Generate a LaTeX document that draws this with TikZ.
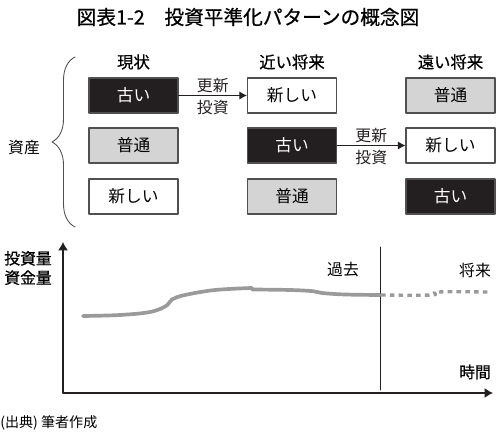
\documentclass[tikz,border=0pt]{standalone}
\usepackage{fontspec}
\setmainfont{Noto Sans CJK JP}[AutoFakeBold=0.7]
\usetikzlibrary{arrows.meta,decorations.pathreplacing}
\definecolor{AssetBlack}{HTML}{231F20}
\definecolor{AssetGray}{HTML}{D4D4D4}
\definecolor{AssetEdge}{HTML}{505050}
\definecolor{CurveGray}{HTML}{9A9A9A}

\begin{document}
\begin{tikzpicture}[x=0.02cm,y=-0.02cm,line cap=round,line join=round,
  asset/.style={draw=AssetEdge,line width=0.6pt,minimum width=1.78cm,minimum height=0.7cm,inner sep=0pt,font=\fontsize{9.5}{10}\selectfont},
  old/.style={asset,fill=AssetBlack,text=white},
  mid/.style={asset,fill=AssetGray},
  new/.style={asset,fill=white},
  phase/.style={font=\fontsize{9.3}{10}\selectfont\bfseries},
  lbl/.style={font=\fontsize{9}{10}\selectfont,inner sep=1pt},
  renew/.style={-{Latex[length=1.5mm,width=1.6mm]},line width=0.5pt,AssetBlack},
  axis/.style={-{Latex[length=1.7mm,width=2mm]},line width=0.6pt,AssetBlack}]
  \useasboundingbox (0,0) rectangle (500,438);
  \node[font=\fontsize{11.2}{12}\selectfont\bfseries] (title) at (248,17) {図表1-2　投資平準化パターンの概念図};
  % phases
  \node[phase] (now) at (133.5,62) {現状};
  \node[phase] (near) at (292,62) {近い将来};
  \node[phase] (far) at (450.5,62) {遠い将来};
  % assets
  \node[old] (a1) at (133.5,95.5) {古い};
  \node[mid] (a2) at (133.5,145.5) {普通};
  \node[new] (a3) at (133.5,196.5) {新しい};
  \node[new] (b1) at (292,95.5) {新しい};
  \node[old] (b2) at (292,145.5) {古い};
  \node[mid] (b3) at (292,196.5) {普通};
  \node[mid] (c1) at (450.5,95.5) {普通};
  \node[new] (c2) at (450.5,145.5) {新しい};
  \node[old] (c3) at (450.5,196.5) {古い};
  \draw[renew] (a1) -- node[lbl,above=0.5pt] {更新} node[lbl,below=1.5pt] {投資} (b1);
  \draw[renew] (b2) -- node[lbl,above=0.5pt] {更新} node[lbl,below=1.5pt] {投資} (c2);
  \draw[decorate,decoration={brace,amplitude=0.46cm},line width=0.5pt,AssetEdge] (75,227) -- (75,57);
  \node[lbl] (asset) at (24,148) {資産};
  % chart
  \coordinate (O) at (63,393);
  \coordinate (Y) at (63,242);
  \coordinate (X) at (493,393);
  \coordinate (N1) at (380,247);\coordinate (N2) at (380,390);
  \draw[axis] (O) -- (Y);
  \draw[axis] (O) -- (X);
  \draw[line width=0.5pt,AssetBlack] (N1) -- (N2);
  \draw[CurveGray,line width=2.1pt] plot[smooth,tension=0.6] coordinates {(83,316) (120,315) (150,312) (166,306) (172,299.5) (185,295) (215,290) (252,288)};
  \draw[CurveGray,line width=2.1pt] plot[smooth,tension=0.6] coordinates {(252,289.5) (290,290) (313,291.2) (322,293) (345,294.5) (380,295)};
  \draw[CurveGray,line width=1.9pt,line cap=butt,dash pattern=on 2.6pt off 2.4pt] plot[smooth,tension=0.6] coordinates {(381,295) (432,295) (438,292) (490,292)};
  \node[lbl,font=\fontsize{9}{11}\selectfont\bfseries,align=left] (qty) at (28,268) {投資量\\資金量};
  \node[lbl] (past) at (343,270) {過去};
  \node[lbl] (future) at (475,270) {将来};
  \node[lbl,font=\fontsize{9}{10}\selectfont\bfseries] (time) at (475,372) {時間};
  \node[anchor=west,inner sep=0pt,font=\fontsize{8}{9}\selectfont] (src) at (0,423) {(出典) 筆者作成};
\end{tikzpicture}
\end{document}
